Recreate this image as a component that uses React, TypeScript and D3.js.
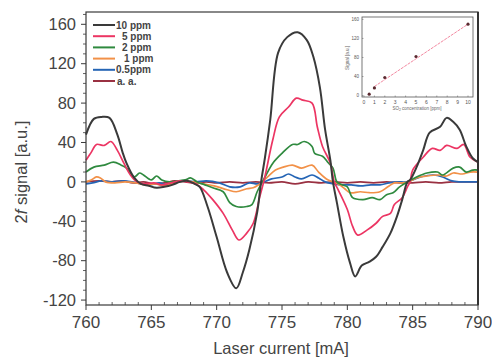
import React from "react";
import * as d3 from "d3";

// main plot data: [laser current mA, 2f signal a.u.]
const black10: [number, number][] = [
  [760, 48], [760.6, 64], [761.2, 66], [761.8, 65], [762.4, 48], [762.8, 30], [763.1, 19], [763.7, 4],
  [764.2, -2], [764.8, -4], [765.4, -6], [766, -5], [766.6, -3], [767.2, 0], [767.8, 1], [768.3, -2],
  [768.7, -5], [769.3, -25], [770, -56], [770.8, -92], [771.5, -108], [772, -92], [772.5, -69],
  [773.1, -31], [773.4, 0], [773.7, 25], [774.1, 63], [774.7, 131], [775.4, 147], [776.2, 152],
  [776.9, 144], [777.4, 127], [777.9, 96], [778.3, 53], [778.7, 22], [778.9, 0], [779.2, -21],
  [779.7, -56], [780.2, -82], [780.6, -96], [781.1, -85], [781.7, -81], [782.2, -76], [782.7, -66],
  [783.3, -52], [783.8, -35], [784.2, -18], [784.6, 0], [784.8, 2], [785.3, 15], [785.8, 32],
  [786.3, 50], [787.1, 56], [787.6, 65], [788.1, 61], [788.6, 53], [789.1, 36], [789.6, 24], [790, 20],
];

const red5: [number, number][] = [
  [760, 22], [760.4, 30], [760.8, 38], [761.4, 37], [761.9, 41], [762.4, 32], [762.9, 19], [763.4, 7],
  [763.9, 0], [764.5, -2], [765.2, -1], [765.8, -3], [766.5, -1], [767.2, 1], [767.8, 0], [768.4, -2],
  [769, -8], [769.7, -18], [770.5, -32], [771.2, -49], [771.7, -59], [772.3, -52], [772.8, -42],
  [773.3, -15], [773.6, 0], [773.8, 12], [774.3, 43], [774.8, 66], [775.5, 76], [776.1, 85],
  [776.6, 83], [777.3, 80], [777.7, 56], [778.1, 36], [778.7, 19], [779, 0], [779.3, -8], [780, -28],
  [780.4, -45], [780.8, -54], [781.5, -49], [782.2, -42], [782.7, -35], [783.3, -32], [783.6, -23],
  [784.2, -16], [784.6, -5], [784.8, 0], [785, 12], [785.8, 25], [786.5, 34], [787.1, 32],
  [787.6, 37], [788.4, 34], [788.9, 38], [789.4, 25], [790, 20],
];

const green2: [number, number][] = [
  [760, 10], [760.6, 15], [761.4, 17], [762.1, 20], [762.7, 17], [763.1, 14], [763.7, 5], [764.1, 9],
  [764.4, 7], [765, 2], [765.4, 6], [765.8, 2], [766.4, 0], [767, 1], [767.6, 2], [768, 4], [768.5, 0],
  [769.1, -3], [769.7, -6], [770.5, -10], [771, -21], [771.5, -25], [772.3, -25], [772.7, -23],
  [773.1, -10], [773.5, 0], [773.7, 5], [774.3, 19], [775, 29], [775.8, 38], [776.2, 38], [776.7, 41],
  [777.3, 36], [777.5, 29], [778.1, 26], [778.5, 20], [778.9, 14], [779.2, 0], [779.6, -3], [780, -5],
  [780.4, -16], [781.2, -18], [781.9, -16], [782.5, -18], [783, -13], [783.5, -11], [784, -5],
  [784.6, 0], [785.3, 5], [786.1, 9], [786.9, 10], [787.3, 7], [788.1, 14], [788.6, 15], [789.1, 10],
  [789.6, 12], [790, 12],
];

const orange1: [number, number][] = [
  [760, 0], [760.4, 2], [760.8, 5], [761.1, 4], [761.5, 0], [762.2, -1], [763, 0], [763.8, -1],
  [764.5, -3], [765.3, -2], [766, -4], [766.8, -1], [767.5, 1], [768.2, 0], [769, -2], [769.8, -4],
  [770.8, -8], [771.5, -10], [772.3, -7], [772.8, -6], [773.2, -3], [773.5, 0], [773.9, 5],
  [774.5, 12], [775.1, 15], [775.8, 17], [776.5, 14], [777.3, 17], [777.8, 10], [778.4, 3],
  [778.9, 0], [779.4, -3], [779.8, -7], [780.2, -11], [781, -10], [781.7, -11], [782.5, -10],
  [783.1, -5], [783.6, -1], [784.2, -1], [784.7, 0], [785.3, 4], [786.1, 6], [787, 7], [787.6, 6],
  [788.1, 9], [788.8, 8], [789.4, 10], [790, 10],
];

const blue05: [number, number][] = [
  [760, -2], [760.5, -1], [761.2, 1], [762, 0], [762.8, 1], [763.5, 0], [764.2, -2], [764.9, -3],
  [765.6, -1], [766.3, -3], [767, 0], [767.7, 1], [768.4, 0], [769.2, 1], [770.2, -1], [771, -5],
  [771.8, -5], [772.5, -1], [773.1, -2], [773.6, 0], [774.2, 3], [775, 5], [775.5, 8], [776, 5],
  [776.5, 3], [777.3, 7], [777.8, 4], [778.3, 0], [779, -2], [779.6, -3], [780.3, -3], [781, -4],
  [781.8, -3], [782.5, -3], [783.2, -1], [783.8, 0], [784.5, 0], [785, 2], [785.6, 5], [786.6, 7],
  [787.3, 5], [788, 1], [788.6, 0], [789.3, 0], [790, 0],
];

const airBg: [number, number][] = [
  [760, 0], [761, 1], [762, 0], [762.8, 1], [763.6, -1], [764.4, 0], [765.2, -2], [766, -1],
  [766.8, 1], [767.6, 0], [768.4, -1], [769.2, 0], [770, -1], [771, 0], [772, -1], [773, 0],
  [774, -1], [775, 0], [776, -2], [777, 0], [778, -1], [779, 0], [780, -1], [781, 0], [782, -1],
  [783, 0], [784, -1], [785, -1], [786, 0], [787, -1], [788, 0], [789, 0], [790, 0],
];

const seriesNames = ["10 ppm", "5 ppm", "2 ppm", "1 ppm", "0.5ppm", "a. a."];
const seriesColors = ["#3a3a3a", "#ec3563", "#2f8a3f", "#f29148", "#2565b5", "#9a3142"];
const seriesData = [black10, red5, green2, orange1, blue05, airBg];

const xTicks = [760, 765, 770, 775, 780, 785, 790];
const yTicks = [-120, -80, -40, 0, 40, 80, 120, 160];

// inset: concentration vs signal
const insetConc = [0.5, 1, 2, 5, 10];
const insetSignal = [3, 16, 38, 82, 150];
const insetFit = [[1, 19], [10, 150]];
const insetXTicks = [0, 1, 2, 3, 4, 5, 6, 7, 8, 9, 10];
const insetYTicks = [0, 40, 80, 120, 160];

const W = 492, H = 360;
const font = "Liberation Sans, Arial, sans-serif";
const ink = "#444";

export default function App() {
  const x = d3.scaleLinear().domain([760, 790]).range([86, 478]);
  const y = d3.scaleLinear().domain([-125, 172.5]).range([305, 12]);
  const line = d3.line<[number, number]>()
    .x(d => x(d[0]))
    .y(d => y(d[1]))
    .curve(d3.curveCatmullRom.alpha(0.5));

  const ix = d3.scaleLinear().domain([0, 10]).range([364, 468]);
  const iy = d3.scaleLinear().domain([-3, 165]).range([97, 17]);

  const minorX = d3.range(760, 791, 1).filter(v => v % 5 !== 0);
  const minorY = d3.range(-120, 171, 10).filter(v => v % 40 !== 0);

  const legendX = [116, 122, 122, 124, 116, 117];

  return (
    <svg width={W} height={H} style={{ position: "absolute", left: 0, top: 0, background: "#fff" }}>
      {/* series */}
      {seriesData.slice().reverse().map((d, i) => {
        const k = seriesData.length - 1 - i;
        return (
          <path key={k} d={line(d) || ""} fill="none" stroke={seriesColors[k]}
            strokeWidth={k === 0 ? 2 : 1.7} strokeLinejoin="round" />
        );
      })}

      {/* frame */}
      <rect x={x(760)} y={y(172.5)} width={x(790) - x(760)} height={y(-125) - y(172.5)}
        fill="none" stroke="#3a3a3a" strokeWidth={1.2} />
      <line x1={x(790)} x2={x(790)} y1={y(172.5)} y2={y(-125)} stroke="#333" strokeWidth={2} />

      {/* y axis */}
      {yTicks.map(t => (
        <g key={t}>
          <line x1={x(760) - 5} x2={x(760)} y1={y(t)} y2={y(t)} stroke="#3a3a3a" strokeWidth={1} />
          <text x={76} y={y(t)} dy="0.35em" textAnchor="end" fontFamily={font} fontSize={16.5} fill={ink}>{t}</text>
        </g>
      ))}
      {minorY.map(t => (
        <line key={t} x1={x(760) - 3} x2={x(760)} y1={y(t)} y2={y(t)} stroke="#3a3a3a" strokeWidth={0.8} />
      ))}

      {/* x axis */}
      {xTicks.map(t => (
        <g key={t}>
          <line x1={x(t)} x2={x(t)} y1={y(-125)} y2={y(-125) + 5} stroke="#3a3a3a" strokeWidth={1} />
          <text x={x(t)} y={328} textAnchor="middle" fontFamily={font} fontSize={17} fill={ink}>{t}</text>
        </g>
      ))}
      {minorX.map(t => (
        <line key={t} x1={x(t)} x2={x(t)} y1={y(-125) - 3} y2={y(-125)} stroke="#3a3a3a" strokeWidth={0.8} />
      ))}

      <text x={281} y={354} textAnchor="middle" fontFamily={font} fontSize={16.5} fill={ink}>Laser current [mA]</text>
      <text transform={`translate(27,172) rotate(-90)`} textAnchor="middle" fontFamily={font} fontSize={16.5} fill={ink}>
        2<tspan fontStyle="italic">f</tspan> signal [a.u.]
      </text>

      {/* legend */}
      {seriesNames.map((n, i) => (
        <g key={n}>
          <line x1={93} x2={115} y1={25 + i * 11.2} y2={25 + i * 11.2} stroke={seriesColors[i]} strokeWidth={2} />
          <text x={legendX[i]} y={25 + i * 11.2} dy="0.35em" fontFamily={font} fontSize={10} fontWeight="bold" fill="#444">{n}</text>
        </g>
      ))}

      {/* inset */}
      <rect x={362} y={17} width={111} height={80} fill="#fff" stroke="#555" strokeWidth={0.8} />
      <line x1={ix(insetFit[0][0])} y1={iy(insetFit[0][1])} x2={ix(insetFit[1][0])} y2={iy(insetFit[1][1])}
        stroke="#f07a95" strokeWidth={0.9} strokeDasharray="3,1" />
      {insetConc.map((c, i) => (
        <circle key={c} cx={ix(c)} cy={iy(insetSignal[i])} r={1.6} fill="#5a2a30" />
      ))}
      {insetXTicks.map(t => (
        <g key={t}>
          <line x1={ix(t)} x2={ix(t)} y1={97} y2={95.5} stroke="#555" strokeWidth={0.5} />
          <text x={ix(t)} y={104} textAnchor="middle" fontFamily={font} fontSize={5} fill="#555">{t}</text>
        </g>
      ))}
      {insetYTicks.map(t => (
        <g key={t}>
          <line x1={362} x2={363.5} y1={iy(t)} y2={iy(t)} stroke="#555" strokeWidth={0.5} />
          <text x={359} y={iy(t)} dy="0.35em" textAnchor="end" fontFamily={font} fontSize={4.5} fill="#555">{t}</text>
        </g>
      ))}
      <text x={417} y={110} textAnchor="middle" fontFamily={font} fontSize={4.5} fill="#666">
        SO<tspan fontSize={3.5} dy={1.2}>2</tspan><tspan dy={-1.2}> concentration [ppm]</tspan>
      </text>
      <text transform="translate(349,58) rotate(-90)" textAnchor="middle" fontFamily={font} fontSize={4.5} fill="#666">Signal [a.u.]</text>
    </svg>
  );
}
